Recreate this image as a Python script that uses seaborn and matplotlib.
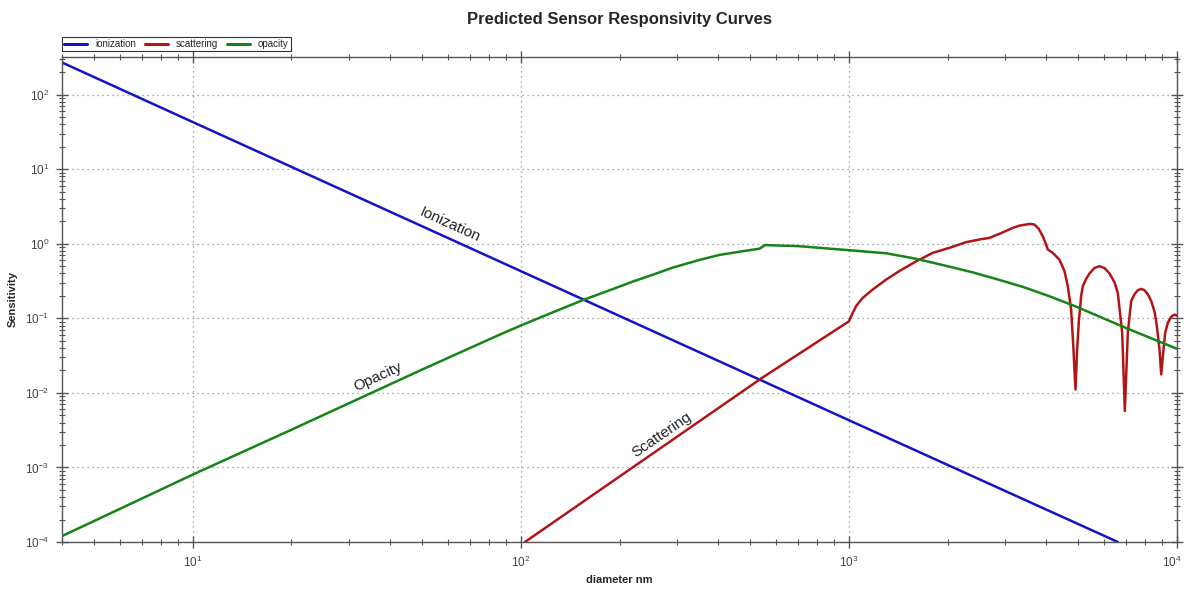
import numpy as np
import pandas as pd
import matplotlib
matplotlib.use("Agg")
import matplotlib.pyplot as plt
import matplotlib.transforms as mtransforms
from matplotlib.ticker import NullFormatter
import seaborn as sns

# values (diameter in nm, sensitivity)
ion_d = [4, 10, 100, 1000, 6600]
ion_s = [270, 43, 0.43, 0.0043, 1.0e-4]

opa_d = [4, 10, 20, 50, 86, 100, 125, 157, 190, 219, 255, 291, 352, 404, 480,
         535, 555, 600, 700, 1000, 1300, 1600, 2000, 2400, 2877, 3400, 4080,
         4900, 7000, 10000]
opa_s = [1.2e-4, 8.0e-4, 3.2e-3, 0.0205, 0.060, 0.080, 0.120, 0.180, 0.245,
         0.31, 0.39, 0.48, 0.61, 0.71, 0.80, 0.86, 0.96, 0.95, 0.93, 0.82,
         0.745, 0.63, 0.50, 0.41, 0.327, 0.263, 0.198, 0.145, 0.074, 0.039]

sca_d = [103, 545, 1000, 1027, 1052, 1102, 1182, 1298, 1425, 1602, 1801, 2023,
         2275, 2500, 2682, 2877, 3158, 3310, 3467, 3567, 3678, 3792, 3899, 3991,
         4038, 4182, 4384, 4540, 4646, 4757, 4836, 4904, 4962, 5018, 5103, 5163,
         5285, 5411, 5605, 5803, 6011, 6226, 6450, 6600, 6806, 6934, 7080, 7250,
         7421, 7597, 7777, 7962, 8150, 8343, 8541, 8682, 8845, 8950, 9054, 9204,
         9378, 9600, 9826, 10000]
sca_s = [1.0e-4, 0.016, 0.091, 0.118, 0.146, 0.188, 0.243, 0.33, 0.43, 0.58,
         0.755, 0.88, 1.05, 1.14, 1.20, 1.36, 1.63, 1.75, 1.81, 1.85, 1.81, 1.58,
         1.26, 0.975, 0.836, 0.755, 0.61, 0.43, 0.27, 0.131, 0.038, 0.0111,
         0.038, 0.087, 0.198, 0.27, 0.338, 0.40, 0.473, 0.50, 0.473, 0.40,
         0.303, 0.22, 0.064, 0.0057, 0.064, 0.171, 0.21, 0.238, 0.248, 0.238,
         0.21, 0.171, 0.123, 0.0785, 0.038, 0.0177, 0.031, 0.064, 0.087, 0.105,
         0.112, 0.109]

series_names = ["ionization", "scattering", "opacity"]
colors = {"ionization": "#1414c4", "scattering": "#b01616", "opacity": "#168416"}

df = pd.concat([
    pd.DataFrame({"d": ion_d, "s": ion_s, "curve": "ionization"}),
    pd.DataFrame({"d": sca_d, "s": sca_s, "curve": "scattering"}),
    pd.DataFrame({"d": opa_d, "s": opa_s, "curve": "opacity"}),
])

sns.set_style("white")
plt.rcParams["font.family"] = ["Liberation Sans", "DejaVu Sans"]
plt.rcParams["axes.unicode_minus"] = False

fig = plt.figure(figsize=(11.84, 5.9), dpi=100)
ax = fig.add_axes([0.0524, 0.0814, 0.9417, 0.822])

sns.lineplot(data=df, x="d", y="s", hue="curve", hue_order=series_names,
             palette=colors, estimator=None, sort=False, linewidth=1.8, ax=ax)

ax.set_xscale("log")
ax.set_yscale("log")
ax.set_xlim(4, 10000)
ax.set_ylim(1e-4, 320)
ax.xaxis.set_minor_formatter(NullFormatter())
ax.yaxis.set_minor_formatter(NullFormatter())

ax.grid(True, which="major", color="#8a8a8a", linestyle=(0, (1, 3)), linewidth=0.9)
ax.grid(False, which="minor")
for sp in ax.spines.values():
    sp.set_color("#555555")
    sp.set_linewidth(1.0)
ax.tick_params(which="both", direction="inout", top=True, right=True,
               left=True, bottom=True, colors="#555555",
               labelcolor="#444444", labelsize=8.5)
ax.tick_params(which="major", length=8, width=1)
ax.tick_params(which="minor", length=5, width=0.8)
ax.tick_params(axis="x", which="major", pad=5)
ax.tick_params(axis="y", which="major", pad=5)

ax.set_xlabel("diameter nm", fontsize=8, fontweight="bold", labelpad=4)
ax.set_ylabel("Sensitivity", fontsize=8, fontweight="bold", labelpad=5)
ax.set_title("Predicted Sensor Responsivity Curves", fontsize=12,
             fontweight="bold", pad=24)

# curve labels
ax.text(60.7, 1.81, "Ionization", rotation=-24.5, fontsize=11, color="#222222",
        ha="center", va="center")
ax.text(36.6, 0.0162, "Opacity", rotation=24.5, fontsize=11, color="#222222",
        ha="center", va="center")
ax.text(269, 0.00277, "Scattering", rotation=34.3, fontsize=11, color="#222222",
        ha="center", va="center")

handles, labels = ax.get_legend_handles_labels()
leg = ax.legend(handles, labels, loc="lower left", bbox_to_anchor=(0.0, 1.012),
                ncol=3, fontsize=7, frameon=True, fancybox=False,
                edgecolor="black", borderpad=0.2, handlelength=2.4,
                handletextpad=0.8, columnspacing=0.9, borderaxespad=0)
leg.get_frame().set_linewidth(0.8)
for line in leg.get_lines():
    line.set_linewidth(2.2)

# nudge the last x tick label so it stays inside the figure
fig.canvas.draw()
for lab in ax.get_xticklabels():
    if "10^{4}" in lab.get_text():
        lab.set_transform(lab.get_transform()
                          + mtransforms.ScaledTranslation(-4 / 72, 0, fig.dpi_scale_trans))

fig.savefig("out.png", dpi=100)
